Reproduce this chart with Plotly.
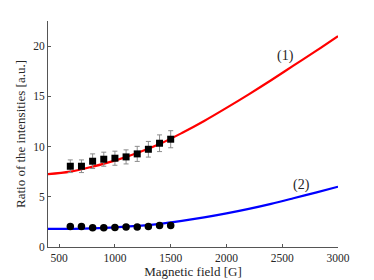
import plotly.graph_objects as go

# Measured data
field_pts = [600, 700, 800, 900, 1000, 1100, 1200, 1300, 1400, 1500]
ratio1 = [8.04, 8.04, 8.54, 8.74, 8.84, 8.97, 9.27, 9.73, 10.33, 10.73]
err1 = [0.63, 0.63, 0.73, 0.70, 0.70, 0.70, 0.75, 0.78, 0.83, 0.85]
ratio2 = [2.05, 2.05, 1.91, 1.91, 1.95, 1.98, 1.98, 2.05, 2.15, 2.15]

# Fitted curves
field_fit = [400, 600, 800, 1000, 1200, 1400, 1600, 1800, 2000, 2200, 2400, 2600, 2800, 3000]
fit1 = [7.25, 7.5, 8.0, 8.6, 9.35, 10.25, 11.35, 12.55, 13.85, 15.2, 16.6, 18.05, 19.5, 21.0]
fit2 = [1.8, 1.81, 1.86, 1.95, 2.1, 2.3, 2.6, 2.95, 3.35, 3.8, 4.3, 4.85, 5.42, 6.0]

x_ticks = [500, 1000, 1500, 2000, 2500, 3000]
y_ticks = [0, 5, 10, 15, 20]

labels = ["(1)", "(2)"]
label_x = [2525, 2669]
label_y = [19.0, 6.2]

FONT = "Liberation Serif"
TXT = "#262626"
AX = "#555555"

fig = go.Figure()
fig.add_trace(go.Scatter(x=field_fit, y=fit1, mode="lines", line=dict(color="#ff0000", width=2.2, shape="spline"), showlegend=False))
fig.add_trace(go.Scatter(x=field_fit, y=fit2, mode="lines", line=dict(color="#0000ff", width=2.2, shape="spline"), showlegend=False))
fig.add_trace(go.Scatter(
    x=field_pts, y=ratio1, mode="markers",
    marker=dict(symbol="square", size=7, color="black"),
    error_y=dict(type="data", array=err1, visible=True, color="#8c8c8c", thickness=1, width=2.5),
    showlegend=False))
fig.add_trace(go.Scatter(
    x=field_pts, y=ratio2, mode="markers",
    marker=dict(symbol="circle", size=7.5, color="black"),
    showlegend=False))

for t, xx, yy in zip(labels, label_x, label_y):
    fig.add_annotation(x=xx, y=yy, text=t, showarrow=False, font=dict(family=FONT, size=14, color=TXT))

# page body has an 8px margin, so the figure starts at (8, 8) in the window
fig.update_layout(
    width=366, height=272,
    margin=dict(l=40, r=36, t=12.5, b=33),
    paper_bgcolor="white", plot_bgcolor="white",
    font=dict(family=FONT, size=11, color=TXT),
)
fig.update_xaxes(
    range=[400, 3000], tickvals=x_ticks, ticktext=[str(v) for v in x_ticks],
    showline=True, linecolor=AX, linewidth=1, mirror=False, automargin=False,
    ticks="inside", ticklen=3, tickcolor=AX, showgrid=False, zeroline=False,
    title=dict(text="Magnetic field [G]", font=dict(family=FONT, size=13, color=TXT), standoff=2),
    tickfont=dict(family=FONT, size=11.5, color=TXT),
)
fig.update_yaxes(
    range=[0, 22.5], tickvals=y_ticks, ticktext=[str(v) for v in y_ticks],
    showline=True, linecolor=AX, linewidth=1, mirror=False, automargin=False,
    ticks="inside", ticklen=3, tickcolor=AX, showgrid=False, zeroline=False,
    title=dict(text="Ratio of the intensities [a.u.]", font=dict(family=FONT, size=13, color=TXT), standoff=4),
    tickfont=dict(family=FONT, size=11.5, color=TXT),
)

fig.write_html("out.html")
